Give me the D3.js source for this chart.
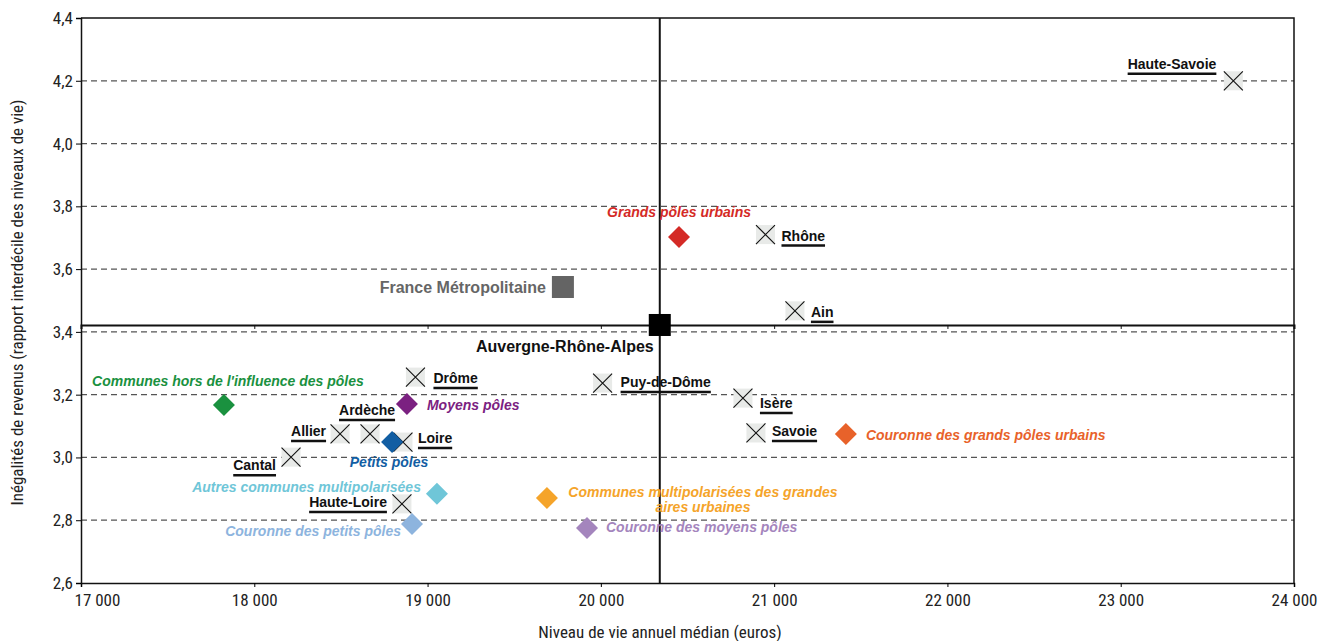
<!DOCTYPE html>
<html>
<head>
<meta charset="utf-8">
<script src="https://cdn.jsdelivr.net/npm/d3@7"></script>
<style>
  body { margin: 0; background: #fff; }
  .tick text { font-family: 'Liberation Sans Narrow', 'Roboto Condensed', 'DejaVu Sans Condensed', sans-serif; font-stretch: condensed; font-size: 17px; fill: #222; }
  .axis-title { font-family: 'Liberation Sans Narrow', 'Roboto Condensed', 'DejaVu Sans Condensed', sans-serif; font-stretch: condensed; font-size: 17px; fill: #222; }
  .dep-label { font-family: 'Liberation Sans', Arial, sans-serif; font-weight: bold; font-size: 14px; fill: #111; }
  .zone-label { font-family: 'Liberation Sans', Arial, sans-serif; font-weight: bold; font-style: italic; font-size: 14px; }
</style>
</head>
<body>
<div id="chart"></div>
<script>
// ---------------- data ----------------
var xTicks = [17000, 18000, 19000, 20000, 21000, 22000, 23000, 24000];
var yTicks = [2.6, 2.8, 3.0, 3.2, 3.4, 3.6, 3.8, 4.0, 4.2, 4.4];

// départements (croix)
var depNames = ['Haute-Savoie', 'Rhône', 'Ain', 'Drôme', 'Puy-de-Dôme', 'Isère', 'Savoie', 'Allier', 'Ardèche', 'Loire', 'Cantal', 'Haute-Loire'];
var depX = [23650, 20950, 21120, 18930, 20010, 20820, 20895, 18495, 18668, 18858, 18212, 18852];
var depY = [4.20, 3.71, 3.467, 3.256, 3.237, 3.189, 3.078, 3.075, 3.075, 3.049, 3.001, 2.852];

// zonage en aires urbaines (losanges)
var zoneNames = ['Grands pôles urbains', 'Communes hors de l\'influence des pôles', 'Moyens pôles', 'Couronne des grands pôles urbains',
  'Petits pôles', 'Autres communes multipolarisées', 'Communes multipolarisées des grandes aires urbaines', 'Couronne des petits pôles', 'Couronne des moyens pôles'];
var zoneX = [20451, 17825, 18881, 21414, 18795, 19054, 19689, 18910, 19920];
var zoneY = [3.702, 3.167, 3.170, 3.075, 3.049, 2.884, 2.871, 2.788, 2.775];
var zoneColors = ['#d42a26', '#1a913f', '#7b2181', '#e8622a', '#125ea3', '#6fc6d8', '#f5a42a', '#8db4de', '#a485bd'];

// références
var regionName = 'Auvergne-Rhône-Alpes';
var regionX = 20340;
var regionY = 3.422;
var franceName = 'France Métropolitaine';
var franceX = 19781;
var franceY = 3.543;

// label placement (dx, dy, anchor) - layout only
var depPlace = {
  'Haute-Savoie': [-17, -12, 'end'], 'Rhône': [16, 6, 'start'], 'Ain': [16, 6, 'start'],
  'Drôme': [18, 6, 'start'], 'Puy-de-Dôme': [18, 4, 'start'], 'Isère': [17, 10, 'start'],
  'Savoie': [16, 3, 'start'], 'Allier': [-14, 2, 'end'], 'Ardèche': [-3, -19, 'middle'],
  'Loire': [15, 1, 'start'], 'Cantal': [-15, 13, 'end'], 'Haute-Loire': [-15, 3, 'end']
};
var zonePlace = {
  'Grands pôles urbains': [0, -20, 'middle'], 'Communes hors de l\'influence des pôles': [4, -19, 'middle'],
  'Moyens pôles': [20, 6, 'start'], 'Couronne des grands pôles urbains': [20, 6, 'start'],
  'Petits pôles': [-3, 25, 'middle'], 'Autres communes multipolarisées': [-16, -2, 'end'],
  'Communes multipolarisées des grandes aires urbaines': [156, -1, 'middle'],
  'Couronne des petits pôles': [-11, 12, 'end'], 'Couronne des moyens pôles': [19, 4, 'start']
};

// ---------------- chart ----------------
var attrs = {
  svgWidth: 1324,
  svgHeight: 641,
  marginTop: 18,
  marginBottom: 58,
  marginRight: 30,
  marginLeft: 81
};

var calc = {};
calc.chartWidth = attrs.svgWidth - attrs.marginLeft - attrs.marginRight;
calc.chartHeight = attrs.svgHeight - attrs.marginTop - attrs.marginBottom;

var svg = d3.select('#chart')
  .append('svg')
  .attr('width', attrs.svgWidth)
  .attr('height', attrs.svgHeight);

var chart = svg.append('g')
  .attr('transform', 'translate(' + attrs.marginLeft + ',' + attrs.marginTop + ')');

var xScale = d3.scaleLinear().domain([17000, 24000]).range([0, calc.chartWidth]);
var yScale = d3.scaleLinear().domain([2.6, 4.4]).range([calc.chartHeight, 0]);

var fmtX = function (d) { return d3.format(',')(d).replace(',', ' '); };
var fmtY = function (d) { return d3.format('.1f')(d).replace('.', ','); };

// dashed grid
chart.append('g')
  .selectAll('line')
  .data(yTicks.slice(1, -1))
  .enter().append('line')
  .attr('x1', 0).attr('x2', calc.chartWidth)
  .attr('y1', function (d) { return yScale(d); })
  .attr('y2', function (d) { return yScale(d); })
  .attr('stroke', '#555')
  .attr('stroke-width', 1.2)
  .attr('stroke-dasharray', '6,4');

// axes
var xAxis = d3.axisBottom(xScale).tickValues(xTicks).tickFormat(fmtX).tickSize(4).tickPadding(7);
var yAxis = d3.axisLeft(yScale).tickValues(yTicks).tickFormat(fmtY).tickSize(5).tickPadding(3);

chart.append('g')
  .attr('transform', 'translate(0,' + calc.chartHeight + ')')
  .call(xAxis)
  .call(function (g) {
    g.select('.domain').attr('stroke', '#111').attr('stroke-width', 1.5);
    // first label pushed right so it clears the y labels
    g.selectAll('.tick text').filter(function (d) { return d === xTicks[0]; })
      .attr('text-anchor', 'start').attr('dx', -7);
  });

chart.append('g')
  .call(yAxis)
  .call(function (g) { g.select('.domain').attr('stroke', '#111').attr('stroke-width', 1.5); });

// frame top / right
chart.append('path')
  .attr('d', 'M0,0H' + calc.chartWidth + 'V' + calc.chartHeight)
  .attr('fill', 'none')
  .attr('stroke', '#111')
  .attr('stroke-width', 1.5);

// axis titles
svg.append('text')
  .attr('class', 'axis-title')
  .attr('x', 660)
  .attr('y', attrs.svgHeight - 3)
  .attr('text-anchor', 'middle')
  .text('Niveau de vie annuel médian (euros)');

svg.append('text')
  .attr('class', 'axis-title')
  .attr('transform', 'translate(23,' + (attrs.marginTop + calc.chartHeight / 2 + 2) + ') rotate(-90)')
  .attr('text-anchor', 'middle')
  .text('Inégalités de revenus (rapport interdécile des niveaux de vie)');

// regional reference lines (crossing at Auvergne-Rhône-Alpes)
var refAxis = d3.axisBottom(xScale).tickValues(xTicks).tickSize(4).tickFormat('');
chart.append('g')
  .attr('transform', 'translate(0,' + yScale(regionY) + ')')
  .call(refAxis)
  .call(function (g) {
    g.select('.domain').attr('stroke', '#111').attr('stroke-width', 2);
    g.selectAll('.tick line').attr('stroke', '#111');
  });

chart.append('line')
  .attr('x1', xScale(regionX)).attr('x2', xScale(regionX))
  .attr('y1', 0).attr('y2', calc.chartHeight)
  .attr('stroke', '#111')
  .attr('stroke-width', 2);

// départements: grey box with a cross
var deps = depNames.map(function (n, i) { return { name: n, x: depX[i], y: depY[i] }; });
var s = 9.5;

var depG = chart.selectAll('.dep')
  .data(deps)
  .enter().append('g')
  .attr('class', 'dep')
  .attr('transform', function (d) { return 'translate(' + xScale(d.x) + ',' + yScale(d.y) + ')'; });

depG.append('rect')
  .attr('x', -s).attr('y', -s)
  .attr('width', 2 * s).attr('height', 2 * s)
  .attr('fill', '#e8eae8');

depG.append('path')
  .attr('d', 'M' + (-s) + ',' + (-s) + 'L' + s + ',' + s + 'M' + s + ',' + (-s) + 'L' + (-s) + ',' + s)
  .attr('stroke', '#111')
  .attr('stroke-width', 1.1);

depG.each(function (d) {
  var p = depPlace[d.name];
  var g = d3.select(this);
  var t = g.append('text')
    .attr('class', 'dep-label')
    .attr('x', p[0]).attr('y', p[1])
    .attr('text-anchor', p[2])
    .text(d.name);
  var w = t.node().getComputedTextLength();
  var x0 = p[2] === 'start' ? p[0] : (p[2] === 'end' ? p[0] - w : p[0] - w / 2);
  g.append('line')
    .attr('x1', x0).attr('x2', x0 + w)
    .attr('y1', p[1] + 5).attr('y2', p[1] + 5)
    .attr('stroke', '#111')
    .attr('stroke-width', 2.5);
});

// zones: diamonds
var zones = zoneNames.map(function (n, i) { return { name: n, x: zoneX[i], y: zoneY[i], color: zoneColors[i] }; });
var dm = 11;

var zoneG = chart.selectAll('.zone')
  .data(zones)
  .enter().append('g')
  .attr('class', 'zone')
  .attr('transform', function (d) { return 'translate(' + xScale(d.x) + ',' + yScale(d.y) + ')'; });

zoneG.append('path')
  .attr('d', 'M0,' + (-dm) + 'L' + dm + ',0L0,' + dm + 'L' + (-dm) + ',0Z')
  .attr('fill', function (d) { return d.color; });

zoneG.each(function (d) {
  var p = zonePlace[d.name];
  var t = d3.select(this).append('text')
    .attr('class', 'zone-label')
    .attr('fill', d.color)
    .attr('text-anchor', p[2]);
  if (d.name === 'Communes multipolarisées des grandes aires urbaines') {
    t.append('tspan').attr('x', p[0]).attr('y', p[1]).text('Communes multipolarisées des grandes');
    t.append('tspan').attr('x', p[0]).attr('y', p[1] + 15).text('aires urbaines');
  } else {
    t.attr('x', p[0]).attr('y', p[1]).text(d.name);
  }
});

// France métropolitaine
var sq = 11;
chart.append('rect')
  .attr('x', xScale(franceX) - sq).attr('y', yScale(franceY) - sq)
  .attr('width', 2 * sq).attr('height', 2 * sq)
  .attr('fill', '#646464');

chart.append('text')
  .attr('class', 'dep-label')
  .attr('x', xScale(franceX) - 17)
  .attr('y', yScale(franceY) + 6)
  .attr('text-anchor', 'end')
  .style('font-size', '16px')
  .style('fill', '#666')
  .text(franceName);

// Auvergne-Rhône-Alpes
chart.append('rect')
  .attr('x', xScale(regionX) - sq).attr('y', yScale(regionY) - sq)
  .attr('width', 2 * sq).attr('height', 2 * sq)
  .attr('fill', '#000');

chart.append('text')
  .attr('class', 'dep-label')
  .attr('x', xScale(regionX) - 6)
  .attr('y', yScale(regionY) + 27)
  .attr('text-anchor', 'end')
  .style('font-size', '16px')
  .style('fill', '#111')
  .text(regionName);
</script>
</body>
</html>
